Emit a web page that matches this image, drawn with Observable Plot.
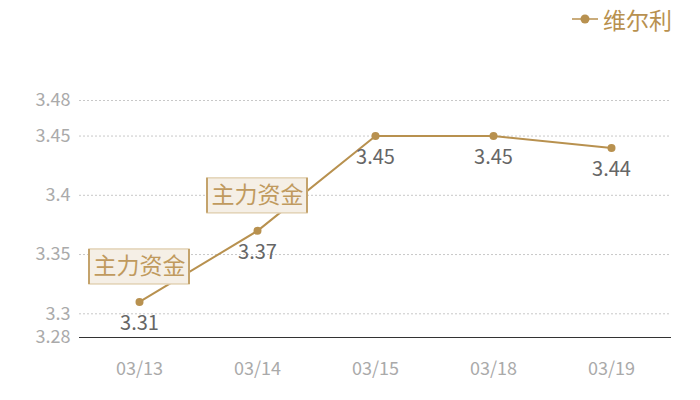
<!DOCTYPE html>
<html><head><meta charset="utf-8">
<script src="https://cdn.jsdelivr.net/npm/d3@7"></script>
<script src="https://cdn.jsdelivr.net/npm/@observablehq/plot@0.6"></script>
<style>
body{margin:0;background:#fff;font-family:"Noto Sans CJK SC","Open Sans",sans-serif;}
#legend{height:40px;position:relative;}
#legend .item{position:absolute;left:572px;top:2px;display:flex;align-items:center;color:#b8914f;font-size:23px;}
</style></head>
<body>
<div id="legend"><div class="item"><svg width="28" height="20" style="margin-right:3px"><line x1="0" y1="10" x2="26" y2="10" stroke="#b8914f" stroke-width="1.5"/><circle cx="13" cy="10" r="4.5" fill="#b8914f"/></svg><span>维尔利</span></div></div>
<div id="chart"></div>
<script>
const dates = ["03/13","03/14","03/15","03/18","03/19"];
const values = [3.31, 3.37, 3.45, 3.45, 3.44];
const yTicks = [3.28, 3.3, 3.35, 3.4, 3.45, 3.48];
const annotationDates = ["03/13","03/14"];
const annotationText = "主力资金";
const seriesName = "维尔利";

const data = dates.map((d,i)=>({date:d, value:values[i]}));
const ann = data.filter(d=>annotationDates.includes(d.date));
const gold = "#b8914f";

function boxMark(rows){
  return Plot.dot(rows, {x:"date", y:"value", render:(index, scales, v)=>{
    const g = d3.create("svg:g");
    for (const i of index){
      const cx = v.x[i], cy = v.y[i]-35;
      g.append("rect").attr("x",cx-50).attr("y",cy-17.5).attr("width",100).attr("height",35)
        .attr("fill","#f5efe6").attr("stroke","#e3d3b6").attr("stroke-width",1.5);
      g.append("line").attr("x1",cx-50).attr("x2",cx-50).attr("y1",cy-17.5).attr("y2",cy+17.5).attr("stroke","#c4a36c").attr("stroke-width",2);
      g.append("line").attr("x1",cx+50).attr("x2",cx+50).attr("y1",cy-17.5).attr("y2",cy+17.5).attr("stroke","#c4a36c").attr("stroke-width",2);
    }
    return g.node();
  }});
}

const chart = Plot.plot({
  width:700, height:360,
  marginTop:60, marginBottom:63, marginLeft:79, marginRight:29,
  style:{fontFamily:'"Noto Sans CJK SC","Open Sans",sans-serif', background:"#fff"},
  x:{type:"point", domain:dates, padding:0.5, label:null},
  y:{domain:[3.28,3.48], label:null},
  marks:[
    Plot.gridY(yTicks.filter(t=>t!==3.28), {stroke:"#c8c8c8", strokeOpacity:1, strokeDasharray:"2,2"}),
    Plot.ruleY([3.28], {stroke:"#333", strokeWidth:1.2}),
    Plot.axisY(yTicks, {tickSize:0, tickPadding:9, fontSize:18, fill:"#aaa", label:null, tickFormat:d=>String(d)}),
    Plot.axisX({tickSize:0, tickPadding:25, fontSize:18, fill:"#aaa", label:null}),
    Plot.line(data, {x:"date", y:"value", stroke:gold, strokeWidth:2}),
    Plot.dot(data, {x:"date", y:"value", fill:gold, r:4}),
    Plot.text(data, {x:"date", y:"value", text:d=>String(d.value), dy:22, fontSize:20, fill:"#666"}),
    boxMark(ann),
    Plot.text(ann, {x:"date", y:"value", text:()=>annotationText, dy:-35, fontSize:23, fill:"#c09a5e"})
  ]
});
document.getElementById("chart").appendChild(chart);
</script>
</body></html>
